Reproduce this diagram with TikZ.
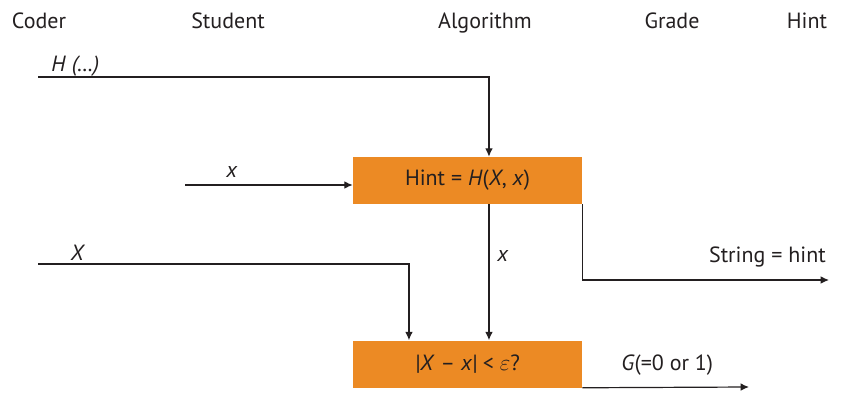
\documentclass[tikz,border=0pt]{standalone}
\usepackage{fontspec}
\setmainfont{PT Sans}
\usepackage{xcolor}
\usetikzlibrary{arrows.meta, positioning}
\definecolor{boxorange}{HTML}{EC8A24}
\definecolor{inkdark}{HTML}{231F20}

\begin{document}
\begin{tikzpicture}[
        x=0.75pt, y=-0.75pt,
        font=\fontsize{16.5}{19}\selectfont,
        text=inkdark,
        calcbox/.style={
            fill=boxorange,
            minimum width=171.75pt,
            minimum height=35.25pt,
            inner sep=0pt,
            align=center
        },
        lbl/.style={inner sep=0pt, anchor=base},
        arrow/.style={-{Latex[length=2.2mm, width=2mm]}, line width=0.9pt, draw=inkdark}
    ]
    \useasboundingbox (0,0) rectangle (841,392);

    % column headings
    \node[lbl] (coder) at (39,29) {Coder};
    \node[lbl] (student) at (228,29) {Student};
    \node[lbl] (algorithm) at (485,29) {Algorithm};
    \node[lbl] (grade) at (672,29) {Grade};
    \node[lbl] (hinthead) at (807,29) {Hint};

    % the two steps
    \node[calcbox] (hint) at (467.5,180.5) {Hint = \textit{H}(\textit{X}, \textit{x})};
    \node[calcbox] (check) at (467.5,364) {\textit{|X} – \textit{x|} < $\varepsilon$?};

    % free ends
    \coordinate (hstart) at (38,77);
    \coordinate (xstart) at (185,185);
    \coordinate (bigxstart) at (38,264);
    \coordinate (strend) at (829,280);
    \coordinate (gend) at (749,387);

    \draw[arrow] (hstart) -| ([xshift=16.1pt]hint.north);
    \draw[arrow] (xstart) -- (xstart -| hint.west);
    \draw[arrow] ([xshift=16.1pt]hint.south) -- ([xshift=16.1pt]check.north);
    \draw[arrow] (hint.south east) |- (strend);
    \draw[arrow] (bigxstart) -| ([xshift=-43.9pt]check.north);
    \draw[arrow] (check.south east) -- (gend);

    % labels on the lines
    \node[lbl, anchor=base west] (hlabel) at (51,72) {\textit{H} \textit{(…)}};
    \node[lbl] (xlabel) at (232,177) {\textit{x}};
    \node[lbl] (xmid) at (503,261) {\textit{x}};
    \node[lbl, anchor=base east] (strlabel) at (826,262) {String = hint};
    \node[lbl] (bigxlabel) at (78,260) {\textit{X}};
    \node[lbl, anchor=base west] (glabel) at (621,370) {\textit{G}(=0 or 1)};
\end{tikzpicture}
\end{document}
